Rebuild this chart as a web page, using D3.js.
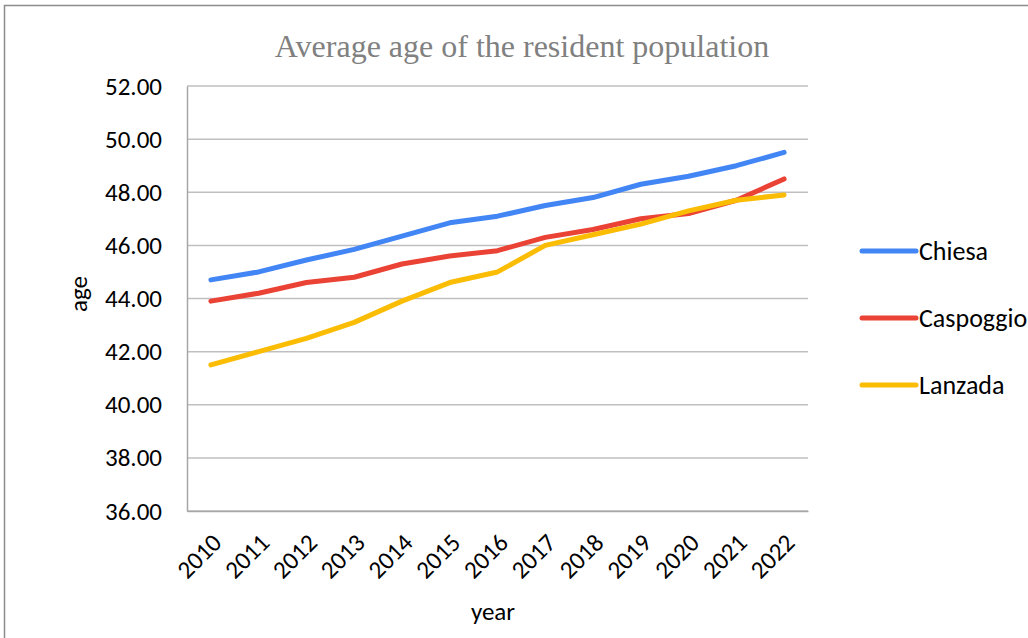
<!DOCTYPE html>
<html>
<head>
<meta charset="utf-8">
<script src="https://cdn.jsdelivr.net/npm/d3@7"></script>
<style>
  body { margin: 0; background: #fff; }
  svg { display: block; }
</style>
</head>
<body>
<div id="chart"></div>
<script>
// Data
var years = ["2010", "2011", "2012", "2013", "2014", "2015", "2016", "2017", "2018", "2019", "2020", "2021", "2022"];
var chiesa    = [44.7, 45.0, 45.45, 45.85, 46.35, 46.85, 47.1, 47.5, 47.8, 48.3, 48.6, 49.0, 49.5];
var caspoggio = [43.9, 44.2, 44.6, 44.8, 45.3, 45.6, 45.8, 46.3, 46.6, 47.0, 47.2, 47.7, 48.5];
var lanzada   = [41.5, 42.0, 42.5, 43.1, 43.9, 44.6, 45.0, 46.0, 46.4, 46.8, 47.3, 47.7, 47.9];
var seriesNames = ["Chiesa", "Caspoggio", "Lanzada"];
var colors = ["#4285f4", "#ea4335", "#fbbc04"];
var yTicks = [36, 38, 40, 42, 44, 46, 48, 50, 52];

var series = [chiesa, caspoggio, lanzada];
var W = 1028, H = 638;
var margin = {left: 187, right: 220, top: 86, bottom: 127};
var labelFont = "Carlito, Lato, 'Open Sans', sans-serif";

var svg = d3.select("#chart").append("svg")
    .attr("width", W)
    .attr("height", H);

// outer chart border
svg.append("rect")
    .attr("x", 4.5).attr("y", 5.5)
    .attr("width", 1040).attr("height", 660)
    .attr("fill", "none")
    .attr("stroke", "#8c8c8c")
    .attr("stroke-width", 1.5);

var x = d3.scaleBand()
    .domain(years)
    .range([margin.left, W - margin.right]);

var y = d3.scaleLinear()
    .domain([36, 52])
    .range([H - margin.bottom, margin.top]);

// gridlines
svg.append("g")
    .selectAll("line")
    .data(yTicks)
    .enter()
    .append("line")
    .attr("x1", margin.left)
    .attr("x2", W - margin.right)
    .attr("y1", function(d) { return y(d); })
    .attr("y2", function(d) { return y(d); })
    .attr("stroke", "#bfbfbf")
    .attr("stroke-width", 1.5);

// y axis
var yAxis = svg.append("g")
    .attr("transform", "translate(" + margin.left + ",0)")
    .call(d3.axisLeft(y).tickValues(yTicks).tickSize(0).tickPadding(25)
        .tickFormat(d3.format(".2f")));
yAxis.select(".domain").attr("stroke", "#a6a6a6").attr("stroke-width", 1.5);
yAxis.selectAll("text")
    .style("font-family", labelFont)
    .style("font-size", "25px")
    .attr("fill", "#000");

// x axis
var xAxis = svg.append("g")
    .attr("transform", "translate(0," + (H - margin.bottom) + ")")
    .call(d3.axisBottom(x).tickSize(0).tickPadding(0));
xAxis.select(".domain").attr("stroke", "#a6a6a6").attr("stroke-width", 1.5);
xAxis.selectAll("text")
    .style("font-family", labelFont)
    .style("font-size", "25px")
    .attr("fill", "#000")
    .attr("text-anchor", "end")
    .attr("dy", "0.35em")
    .attr("transform", "translate(6,27) rotate(-45)");

// lines
var line = d3.line()
    .x(function(d, i) { return x(years[i]) + x.bandwidth() / 2; })
    .y(function(d) { return y(d); });

svg.append("g")
    .selectAll("path")
    .data(series)
    .enter()
    .append("path")
    .attr("d", line)
    .attr("fill", "none")
    .attr("stroke", function(d, i) { return colors[i]; })
    .attr("stroke-width", 5)
    .attr("stroke-linecap", "round")
    .attr("stroke-linejoin", "round");

// title
svg.append("text")
    .attr("x", 522)
    .attr("y", 57)
    .attr("text-anchor", "middle")
    .style("font-family", "'Liberation Serif', 'Times New Roman', serif")
    .style("font-size", "32px")
    .attr("fill", "#808080")
    .text("Average age of the resident population");

// axis titles
svg.append("text")
    .attr("transform", "translate(87,294) rotate(-90)")
    .attr("text-anchor", "middle")
    .style("font-family", labelFont)
    .style("font-size", "25px")
    .text("age");

svg.append("text")
    .attr("x", 493)
    .attr("y", 620)
    .attr("text-anchor", "middle")
    .style("font-family", labelFont)
    .style("font-size", "25px")
    .text("year");

// legend
var legend = svg.append("g")
    .selectAll("g")
    .data(seriesNames)
    .enter()
    .append("g")
    .attr("transform", function(d, i) { return "translate(862," + (251 + i * 67) + ")"; });
legend.append("line")
    .attr("x1", 0).attr("x2", 54)
    .attr("stroke", function(d, i) { return colors[i]; })
    .attr("stroke-width", 5)
    .attr("stroke-linecap", "round");
legend.append("text")
    .attr("x", 57)
    .attr("dy", "0.35em")
    .style("font-family", labelFont)
    .style("font-size", "26px")
    .text(function(d) { return d; });
</script>
</body>
</html>
